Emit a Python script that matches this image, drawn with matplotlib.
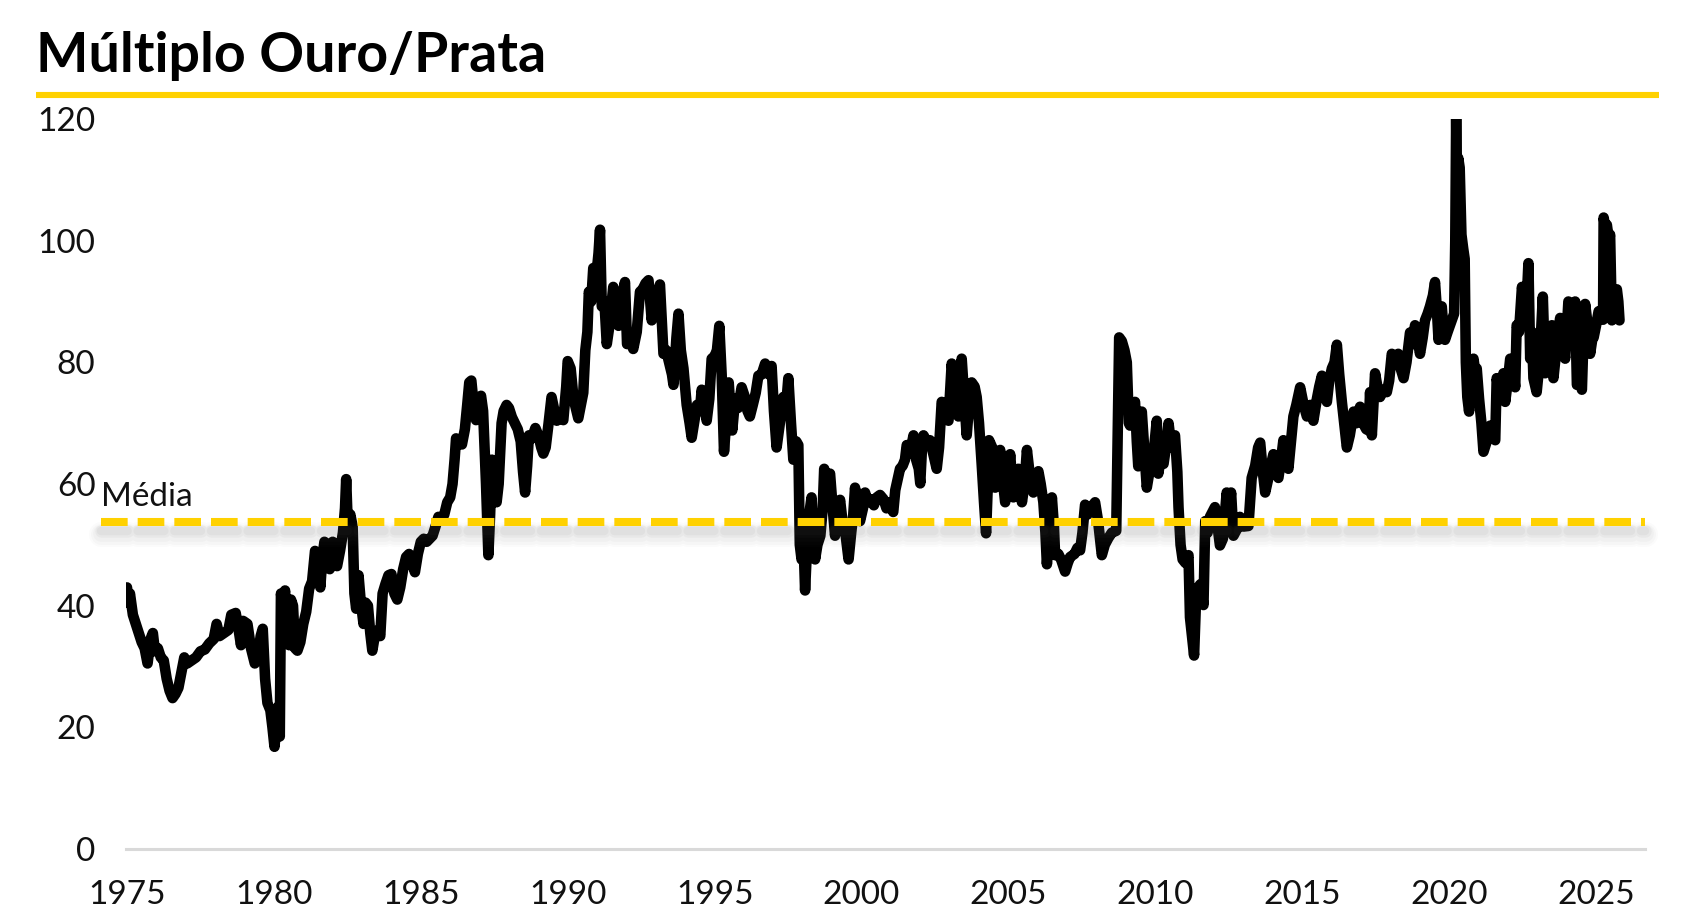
import matplotlib
matplotlib.use("Agg")
import matplotlib.pyplot as plt
from matplotlib.lines import Line2D

# ---------------- data ----------------
anos = [
1975.00,1975.04,1975.10,1975.20,1975.30,1975.40,1975.50,1975.60,1975.70,1975.80,1975.88,1975.95,
1976.05,1976.15,1976.25,1976.35,1976.45,1976.55,1976.65,1976.75,1976.85,1976.95,
1977.05,1977.20,1977.35,1977.50,1977.65,1977.80,1977.95,
1978.05,1978.15,1978.30,1978.45,1978.55,1978.70,1978.80,1978.88,1978.95,
1979.10,1979.22,1979.35,1979.45,1979.55,1979.62,1979.70,1979.78,1979.88,1979.95,
1980.02,1980.10,1980.16,1980.20,1980.24,1980.30,1980.38,1980.45,1980.52,1980.58,1980.65,1980.72,1980.80,1980.90,
1981.00,1981.10,1981.20,1981.30,1981.40,1981.50,1981.58,1981.65,1981.72,1981.80,1981.90,
1982.00,1982.08,1982.15,1982.25,1982.35,1982.42,1982.46,1982.52,1982.60,1982.68,1982.74,1982.80,1982.88,1982.95,
1983.05,1983.12,1983.20,1983.28,1983.35,1983.45,1983.55,1983.62,1983.70,1983.80,1983.90,
1984.00,1984.10,1984.20,1984.30,1984.40,1984.50,1984.60,1984.70,1984.80,1984.90,
1985.00,1985.10,1985.20,1985.30,1985.40,1985.50,1985.60,1985.70,1985.80,1985.90,
1986.00,1986.08,1986.15,1986.20,1986.30,1986.40,1986.50,1986.58,1986.65,1986.72,1986.80,1986.88,1986.95,
1987.05,1987.12,1987.22,1987.30,1987.36,1987.42,1987.50,1987.58,1987.65,1987.75,1987.82,1987.92,
1988.00,1988.10,1988.20,1988.30,1988.40,1988.48,1988.55,1988.62,1988.68,1988.78,1988.90,
1989.00,1989.10,1989.17,1989.25,1989.35,1989.45,1989.55,1989.63,1989.75,1989.85,1989.95,
1990.00,1990.10,1990.20,1990.30,1990.36,1990.45,1990.53,1990.60,1990.67,1990.72,1990.80,1990.87,1990.95,
1991.05,1991.10,1991.16,1991.25,1991.33,1991.42,1991.50,1991.55,1991.65,1991.73,1991.85,1991.95,
1992.02,1992.12,1992.23,1992.35,1992.46,1992.55,1992.65,1992.75,1992.86,1992.95,
1993.05,1993.14,1993.26,1993.35,1993.45,1993.55,1993.60,1993.70,1993.77,1993.85,1993.94,
1994.05,1994.15,1994.22,1994.30,1994.40,1994.50,1994.56,1994.66,1994.73,1994.82,1994.90,
1995.00,1995.08,1995.16,1995.24,1995.32,1995.42,1995.48,1995.53,1995.60,1995.70,1995.80,1995.92,
1996.05,1996.12,1996.20,1996.30,1996.40,1996.49,1996.60,1996.72,1996.85,1996.94,
1997.02,1997.11,1997.22,1997.34,1997.42,1997.51,1997.60,1997.68,1997.78,1997.85,1997.90,1997.96,
1998.03,1998.08,1998.15,1998.22,1998.30,1998.36,1998.42,1998.50,1998.60,1998.68,1998.73,1998.80,1998.93,
1999.02,1999.10,1999.18,1999.27,1999.35,1999.45,1999.56,1999.65,1999.72,1999.78,1999.86,1999.95,
2000.05,2000.12,2000.22,2000.32,2000.42,2000.52,2000.63,2000.75,2000.85,2000.95,
2001.08,2001.15,2001.22,2001.31,2001.40,2001.48,2001.54,2001.65,2001.77,2001.86,2001.95,
2002.00,2002.06,2002.11,2002.22,2002.33,2002.44,2002.56,2002.64,2002.73,2002.85,2002.96,
2003.07,2003.18,2003.30,2003.41,2003.50,2003.58,2003.66,2003.75,2003.85,2003.92,
2004.00,2004.09,2004.17,2004.24,2004.30,2004.34,2004.45,2004.55,2004.64,2004.72,2004.80,2004.89,2004.98,
2005.06,2005.17,2005.26,2005.34,2005.46,2005.55,2005.63,2005.74,2005.85,2005.94,
2006.02,2006.10,2006.19,2006.26,2006.31,2006.40,2006.48,2006.55,2006.59,2006.70,2006.80,2006.93,
2007.02,2007.10,2007.25,2007.35,2007.44,2007.52,2007.61,2007.70,2007.80,2007.95,
2008.05,2008.18,2008.28,2008.40,2008.52,2008.67,2008.72,2008.77,2008.86,2008.95,
2009.03,2009.10,2009.14,2009.22,2009.31,2009.37,2009.42,2009.48,2009.54,2009.62,2009.71,2009.80,2009.88,2009.96,
2010.05,2010.10,2010.18,2010.28,2010.36,2010.45,2010.55,2010.67,2010.75,2010.79,2010.86,2010.93,
2011.03,2011.13,2011.18,2011.25,2011.32,2011.38,2011.43,2011.53,2011.64,2011.70,2011.78,2011.86,
2012.03,2012.12,2012.20,2012.30,2012.43,2012.50,2012.58,2012.66,2012.77,2012.88,
2013.00,2013.17,2013.28,2013.40,2013.50,2013.57,2013.66,2013.74,2013.85,2013.93,
2014.02,2014.10,2014.19,2014.28,2014.36,2014.45,2014.53,2014.62,2014.70,2014.80,2014.93,
2015.05,2015.16,2015.28,2015.38,2015.50,2015.58,2015.67,2015.75,2015.84,2015.92,
2016.01,2016.10,2016.18,2016.26,2016.35,2016.45,2016.52,2016.62,2016.75,2016.85,2016.97,
2017.07,2017.18,2017.26,2017.31,2017.37,2017.48,2017.56,2017.65,2017.76,2017.88,2017.96,
2018.05,2018.15,2018.27,2018.35,2018.45,2018.55,2018.67,2018.76,2018.84,2018.92,
2019.01,2019.10,2019.18,2019.27,2019.35,2019.45,2019.52,2019.58,2019.64,2019.70,2019.75,2019.80,2019.86,2019.95,
2020.09,2020.17,2020.21,2020.24,2020.27,2020.31,2020.36,2020.42,2020.48,2020.53,2020.57,2020.62,2020.68,2020.75,2020.83,2020.90,2020.94,
2021.02,2021.10,2021.17,2021.28,2021.40,2021.50,2021.57,2021.62,2021.70,2021.80,2021.85,2021.91,
2022.00,2022.08,2022.18,2022.25,2022.30,2022.38,2022.48,2022.55,2022.62,2022.70,2022.76,2022.82,2022.87,2022.98,
2023.08,2023.19,2023.27,2023.35,2023.43,2023.50,2023.55,2023.65,2023.72,2023.78,2023.88,2023.95,
2024.06,2024.15,2024.22,2024.29,2024.35,2024.44,2024.52,2024.58,2024.63,2024.72,2024.80,2024.88,2024.92,
2025.00,2025.09,2025.18,2025.24,2025.26,2025.32,2025.37,2025.44,2025.48,2025.54,2025.62,2025.71,2025.76,2025.80,
]

multiplo = [
43.0,40.5,42.0,38.5,37.0,35.5,34.0,33.0,30.5,34.5,35.5,32.5,
33.0,31.5,31.0,28.0,26.0,24.8,25.5,26.5,29.0,31.5,
30.5,31.0,31.5,32.5,32.8,33.8,34.5,
37.0,35.0,35.5,36.0,38.5,38.8,36.0,33.5,37.5,
37.0,33.0,30.5,31.5,35.0,36.2,28.0,24.0,22.8,20.0,
16.8,21.0,23.5,18.5,42.0,40.0,42.5,35.0,33.5,41.0,40.0,33.0,32.6,34.0,
37.0,39.0,42.8,44.0,49.0,48.0,43.0,48.0,50.5,49.0,46.0,
50.5,47.5,46.5,49.0,52.0,56.0,60.8,52.5,55.0,53.0,42.0,39.5,45.0,41.0,
37.0,40.5,40.0,35.5,32.6,35.5,36.0,35.0,42.0,43.6,45.0,
45.2,42.0,41.0,43.0,46.0,48.0,48.5,47.0,45.5,48.5,
50.5,51.0,50.5,51.0,51.5,53.0,54.6,54.0,55.0,57.0,
57.8,60.0,64.0,67.5,67.0,66.5,69.0,73.0,76.7,77.0,73.0,70.5,73.0,
74.5,72.0,60.0,48.3,55.0,64.0,62.0,57.0,60.0,70.0,72.0,73.0,
72.5,71.0,70.0,69.0,67.0,62.0,58.6,63.0,68.0,67.5,69.2,
68.0,66.0,65.0,66.0,70.0,74.3,72.0,70.4,71.0,70.5,76.0,
80.2,79.0,74.0,72.0,70.8,73.0,75.0,82.0,85.0,91.6,90.0,95.5,93.0,
98.0,101.8,89.2,90.0,83.0,86.0,90.0,92.4,88.0,86.0,91.0,93.2,
83.0,84.0,82.2,85.0,91.6,92.0,93.0,93.5,86.9,90.0,
91.0,92.8,81.4,82.0,80.0,78.0,76.3,84.0,88.0,82.0,79.0,
73.0,70.0,67.6,70.0,73.0,72.0,75.5,73.0,70.4,74.0,80.6,
81.0,82.0,86.0,78.0,65.3,72.0,76.7,73.0,68.8,74.0,72.5,75.9,
74.0,72.0,71.1,73.0,75.0,77.8,78.0,79.8,78.0,79.4,
72.0,66.0,70.0,74.3,72.0,77.4,70.0,64.0,67.0,66.4,50.0,47.6,
50.0,42.5,50.0,55.0,57.8,52.0,47.6,50.0,51.5,56.0,62.5,60.0,61.7,
56.0,51.5,55.0,57.4,54.0,52.0,47.6,52.0,55.0,59.4,56.0,53.9,
56.0,58.6,57.0,57.5,56.5,57.8,58.2,57.5,56.0,57.0,
55.4,59.0,60.5,62.5,63.0,64.0,66.4,65.0,68.0,64.0,62.5,
60.1,66.0,68.0,67.0,67.2,65.0,62.5,66.0,73.5,72.0,70.4,
79.8,75.0,71.1,80.6,74.0,68.0,73.0,76.7,76.0,74.3,
70.0,63.3,57.0,51.9,60.0,67.2,66.0,59.4,63.0,65.6,61.0,57.0,60.0,
64.9,57.8,60.0,62.5,57.0,60.0,65.6,61.0,58.6,60.5,
62.1,60.0,57.0,52.0,46.8,52.0,57.8,53.0,48.3,48.5,47.5,45.6,
47.0,48.0,48.5,49.5,49.1,52.0,56.6,55.0,56.0,57.0,
54.0,48.3,50.0,51.1,52.0,52.3,68.0,84.1,83.5,82.0,
80.0,70.0,69.6,72.0,73.5,67.0,62.9,66.0,71.9,66.0,59.4,62.0,65.6,66.0,
70.4,61.7,64.0,63.3,66.0,70.0,66.0,68.0,62.0,56.2,50.0,47.6,
47.0,48.3,38.1,35.0,31.8,40.0,42.8,43.5,40.1,53.9,52.0,54.6,
56.2,53.0,49.9,51.0,58.6,55.0,58.6,51.5,52.5,54.6,
53.0,53.1,61.0,63.0,66.0,66.8,62.0,58.6,61.0,63.0,
64.9,62.0,61.0,64.0,67.2,64.0,62.5,67.0,71.1,73.0,75.9,
73.0,71.1,73.0,70.4,74.0,76.0,77.8,75.0,73.5,77.0,
79.0,80.0,82.9,78.0,73.5,69.0,66.0,68.0,71.9,70.0,72.7,
70.0,69.0,68.8,75.1,68.0,78.2,76.0,74.3,75.5,75.1,77.0,
81.4,80.0,81.4,79.0,77.4,80.0,84.9,83.0,86.1,84.0,
81.4,84.0,86.9,88.0,89.2,91.0,93.2,89.0,83.7,86.0,89.2,86.0,83.7,85.0,
86.9,88.0,100.0,120.0,106.0,113.6,112.0,101.0,98.7,97.0,80.0,74.3,71.9,77.0,80.6,78.0,79.0,
74.0,70.0,65.3,67.0,69.6,68.0,67.2,77.4,75.0,77.0,78.2,73.5,
77.0,80.6,79.0,75.9,86.1,85.0,92.4,90.0,88.0,96.3,80.6,85.0,77.4,75.1,
80.0,90.8,78.2,82.0,85.0,86.1,77.4,82.0,85.0,87.3,83.0,80.6,
90.0,89.0,88.0,90.0,76.3,77.0,75.5,85.0,89.6,86.0,81.4,84.0,84.1,
86.0,88.4,88.0,87.0,103.8,102.0,102.6,100.0,101.0,86.9,90.0,92.0,90.0,86.9,
]

media = 53.7
titulo = "Múltiplo Ouro/Prata"
rotulo_media = "Média"
y_ticks = [0, 20, 40, 60, 80, 100, 120]
x_ticks = [1975, 1980, 1985, 1990, 1995, 2000, 2005, 2010, 2015, 2020, 2025]

# ---------------- style ----------------
W, H = 1700, 916
plt.rcParams['font.family'] = ['Lato', 'DejaVu Sans']
plt.rcParams['lines.scale_dashes'] = False
YELLOW = '#FFD100'

fig = plt.figure(figsize=(W / 100, H / 100), dpi=100)

def fx(px):
    return px / W

def fy(py):
    return (H - py) / H

ax_left, ax_right, ax_top, ax_bottom = 126, 1645, 119, 849
ax = fig.add_axes([fx(ax_left), fy(ax_bottom), fx(ax_right - ax_left), fy(ax_top) - fy(ax_bottom)])

px_per_year = 29.38
x0 = 1975 - (127 - ax_left) / px_per_year
x1 = x0 + (ax_right - ax_left) / px_per_year
ax.set_xlim(x0, x1)
ax.set_ylim(0, 120)

# main series
ax.plot(anos, multiplo, color='black', lw=7.6, solid_joinstyle='round',
        solid_capstyle='round', zorder=3, clip_on=True)

# mean line with soft shadow
x_mean_start = 1975 + (101 - 127) / px_per_year
dash = (19.2, 7.2)
for lw, a, off in [(18, 0.025, 2.0), (15, 0.03, 1.9), (12, 0.04, 1.7), (9, 0.05, 1.5), (6, 0.06, 1.4)]:
    ax.plot([x_mean_start, x1], [media - off, media - off], color='#606060', lw=lw,
            alpha=a, dashes=dash, dash_capstyle='round', zorder=4, clip_on=False)
ax.plot([x_mean_start, x1], [media, media], color=YELLOW, lw=5.8,
        dashes=dash, dash_capstyle='butt', zorder=5, clip_on=False)

ax.text(x_mean_start, 56.4, rotulo_media, fontsize=24, color='#111111',
        ha='left', va='baseline', zorder=6, clip_on=False)

# axes styling
for s in ['left', 'right', 'top']:
    ax.spines[s].set_visible(False)
ax.spines['bottom'].set_color('#D9D9D9')
ax.spines['bottom'].set_linewidth(2.2)
ax.set_yticks(y_ticks)
ax.set_yticklabels([str(v) for v in y_ticks])
ax.set_xticks(x_ticks)
ax.set_xticklabels([str(v) for v in x_ticks])
ax.tick_params(axis='y', length=0, pad=22, labelsize=24, labelcolor='#111111')
ax.tick_params(axis='x', length=0, pad=22, labelsize=24, labelcolor='#111111')
ax.patch.set_alpha(0)

# title and yellow rule
fig.text(fx(36), fy(72), titulo, fontsize=40, fontweight='bold',
         ha='left', va='baseline', color='black')
fig.add_artist(Line2D([fx(36), fx(1659)], [fy(95), fy(95)], color=YELLOW,
                      lw=4.4, solid_capstyle='butt', transform=fig.transFigure))

fig.savefig('out.png', dpi=100, facecolor='white')
